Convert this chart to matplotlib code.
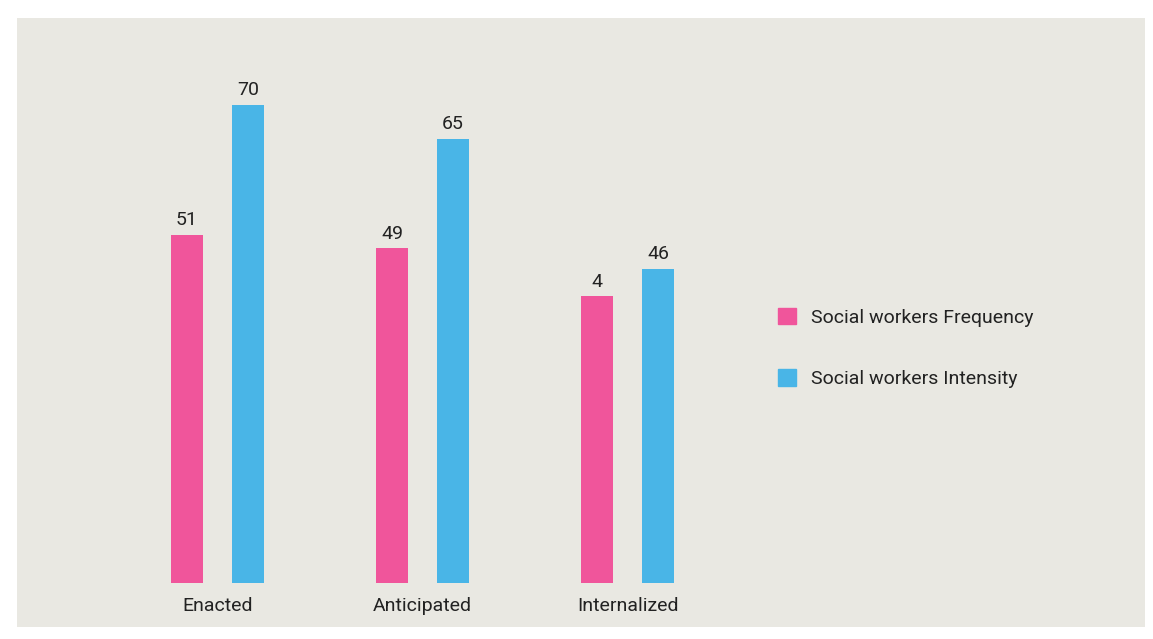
import matplotlib
matplotlib.use("Agg")
import matplotlib.pyplot as plt
from matplotlib.patches import Patch
import numpy as np

categories = ["Enacted", "Anticipated", "Internalized"]
frequency = [51, 49, 42]
frequency_labels = ["51", "49", "4"]
intensity = [70, 65, 46]
intensity_labels = ["70", "65", "46"]
series_names = ["Social workers Frequency", "Social workers Intensity"]

PINK = "#f0559b"
BLUE = "#49b5e7"
PANEL = "#e9e8e2"

plt.rcParams['font.family'] = ['Roboto', 'DejaVu Sans']

W, H = 1153, 639
fig = plt.figure(figsize=(W / 100, H / 100), dpi=100, facecolor="white")
left, right, top, bottom = 17, 1145, 18, 627
ax = fig.add_axes([left / W, 1 - bottom / H, (right - left) / W, (bottom - top) / H])
ax.set_facecolor(PANEL)
for s in ax.spines.values():
    s.set_visible(False)
ax.set_xticks([])
ax.set_yticks([])

unit = 205.0
c0 = 217.5
ax.set_xlim(-(c0 - left) / unit, (right - c0) / unit)
ppu = 6.83
base = 583
ax.set_ylim(-(bottom - base) / ppu, (base - top) / ppu)

x = np.arange(len(categories))
off = 0.149
w = 0.156
b1 = ax.bar(x - off, frequency, width=w, color=PINK, label=series_names[0])
b2 = ax.bar(x + off, intensity, width=w, color=BLUE, label=series_names[1])

for rect, lab in zip(b1, frequency_labels):
    ax.annotate(lab, (rect.get_x() + rect.get_width() / 2, rect.get_height()),
                xytext=(0, 4), textcoords="offset points", ha="center", va="bottom",
                fontsize=14, color="#222222")
for rect, lab in zip(b2, intensity_labels):
    ax.annotate(lab, (rect.get_x() + rect.get_width() / 2, rect.get_height()),
                xytext=(0, 4), textcoords="offset points", ha="center", va="bottom",
                fontsize=14, color="#222222")

for xi, cat in zip(x, categories):
    ax.text(xi, -3.4, cat, ha="center", va="center", fontsize=14, color="#222222")

handles = [Patch(color=PINK), Patch(color=BLUE)]
leg = ax.legend(handles, series_names, loc="upper left",
                bbox_to_anchor=(760 / W, 1 - 290 / H), bbox_transform=fig.transFigure,
                frameon=False, fontsize=14, handlelength=0.95, handleheight=0.95,
                labelspacing=2.2, handletextpad=0.75, labelcolor="#222222")

fig.savefig("out.png", dpi=100, facecolor="white")
